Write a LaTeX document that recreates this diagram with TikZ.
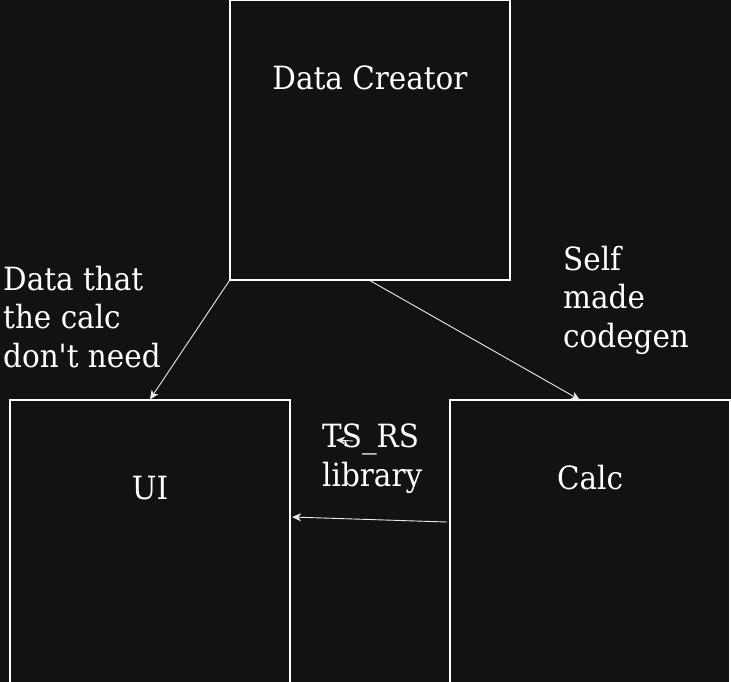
\documentclass[tikz,border=0pt]{standalone}
\usepackage{fontspec}
\setmainfont{DejaVu Serif}[FakeStretch=0.92,Ligatures=TeXOff]
\usetikzlibrary{arrows.meta,calc}
\definecolor{bg}{HTML}{121212}
\tikzset{
  box/.style={draw=white,line width=1.2pt,minimum width=280pt,minimum height=280pt,inner sep=0pt,fill=bg},
  txt/.style={text=white,inner sep=0pt,font=\fontsize{32}{38.5}\selectfont},
  lbl/.style={txt,align=left,anchor=base west},
  conn/.style={draw=white!92!black,line width=0.9pt,-{Stealth[length=9pt,width=8pt,inset=2.5pt]}}
}
\begin{document}
\begin{tikzpicture}[x=1pt,y=-1pt]
\useasboundingbox (0,0) rectangle (731,681);
\clip (-3,-3) rectangle (734,684);
\fill[bg] (-3,-3) rectangle (734,684);
\node[box] (dc) at (370,140) {};
\node[box,minimum height=284pt] (ui) at (150,542) {};
\node[box,minimum height=284pt] (calc) at (590,542) {};
\node[txt,anchor=base] (dct) at (370,89) {Data Creator};
\node[txt,anchor=base] (uit) at (150,499) {UI};
\node[txt,anchor=base] (calct) at (590,489) {Calc};
\node[lbl] (l1) at (3,367) {Data that\\the calc\\don't need};
\node[lbl] (l2) at (563,347) {Self\\made\\codegen};
\node[lbl] (l3) at (322,486) {TS\_RS\\library};
\coordinate (dcs) at ($(dc.south)$);
\coordinate (calctop) at (580,400);
\coordinate (cfrom) at (447,522);
\coordinate (uito) at (292,517);
\coordinate (sa) at (353,441);
\coordinate (sb) at (336,440);
\draw[conn] (dc.south west) -- (ui.north);
\draw[conn] (dcs) -- (calctop);
\draw[conn] (cfrom) -- (uito);
\draw[conn] (sa) -- (sb);
\end{tikzpicture}
\end{document}
